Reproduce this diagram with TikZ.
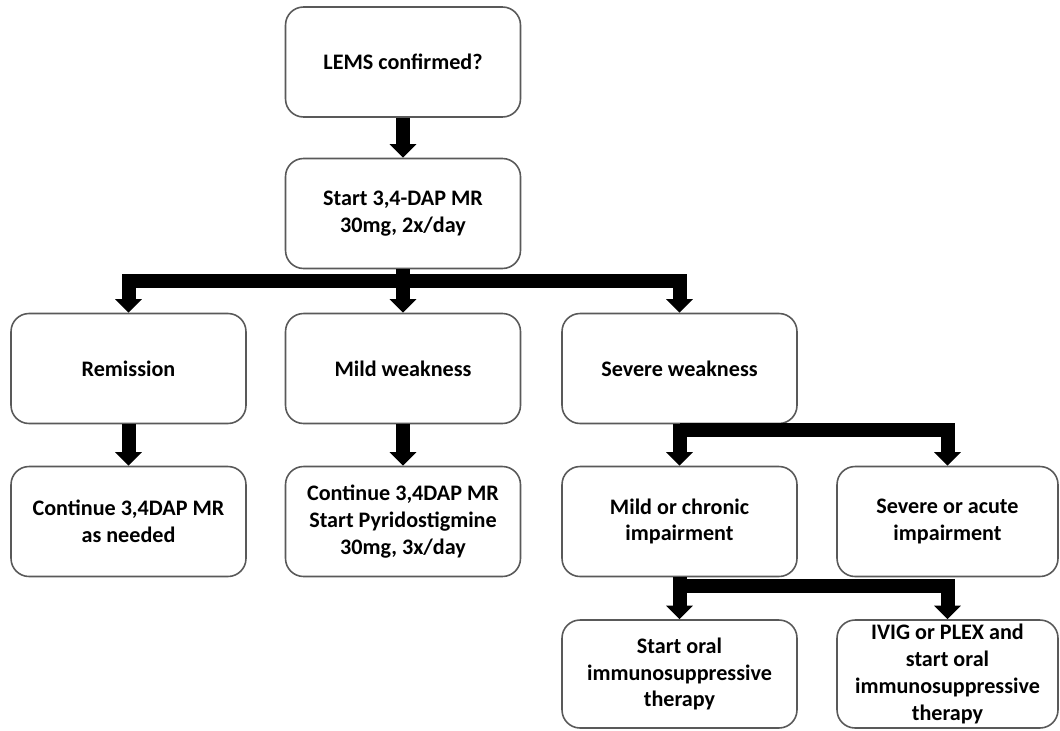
\documentclass[tikz,border=0pt]{standalone}
\usepackage{fontspec}
\setmainfont{Carlito}
\usetikzlibrary{arrows.meta}

\begin{document}
\begin{tikzpicture}[x=0.02cm,y=-0.02cm,
		box/.style={draw=black!65,line width=0.9pt,rounded corners=0.36cm,fill=white,
			minimum width=4.7cm,minimum height=2.2cm,align=center,inner sep=1pt,
			font=\fontsize{12.6}{15.3}\selectfont\bfseries},
		flow/.style={line width=0.28cm,-{Triangle[width=0.52cm,length=0.27cm]}}]
		\useasboundingbox (0,0) rectangle (1060,730);
		% boxes
		\node[box] (lems) at (403,62) {LEMS confirmed?};
		\node[box] (dap) at (403,213.5) {Start 3,4-DAP MR\\30mg, 2x/day};
		\node[box] (remis) at (128.5,368.5) {Remission};
		\node[box] (mildw) at (403,368.5) {Mild weakness};
		\node[box] (sevw) at (679.5,368.5) {Severe weakness};
		\node[box] (contdap) at (128.5,521.5) {Continue 3,4DAP MR\\as needed};
		\node[box] (pyrido) at (403,521.5) {Continue 3,4DAP MR\\Start Pyridostigmine\\30mg, 3x/day};
		\node[box] (mildimp) at (679.5,521.5) {Mild or chronic\\impairment};
		\node[box,minimum width=4.42cm] (sevimp) at (947.5,521.5) {Severe or acute\\impairment};
		\node[box,minimum height=2.16cm] (oral) at (679.5,674) {Start oral\\immunosuppressive\\therapy};
		\node[box,minimum width=4.42cm,minimum height=2.16cm] (ivig) at (947.5,674) {IVIG or PLEX and\\start oral\\immunosuppressive\\therapy};
		% arrows
		\draw[flow] (lems) -- (dap);
		\draw[flow] (dap.south) -- ++(0,11.5) coordinate (split1) -| (remis.north);
		\draw[flow] (split1) -- (mildw);
		\draw[flow] (split1) -| (sevw.north);
		\draw[flow] (remis) -- (contdap);
		\draw[flow] (mildw) -- (pyrido);
		\draw[flow] (sevw.south) -- ++(0,6) coordinate (split2) -- (mildimp);
		\draw[flow] (split2) -| (sevimp.north);
		\draw[flow] (mildimp.south) -- ++(0,8.5) coordinate (split3) -- (oral);
		\draw[flow] (split3) -| (ivig.north);
	\end{tikzpicture}
\end{document}
